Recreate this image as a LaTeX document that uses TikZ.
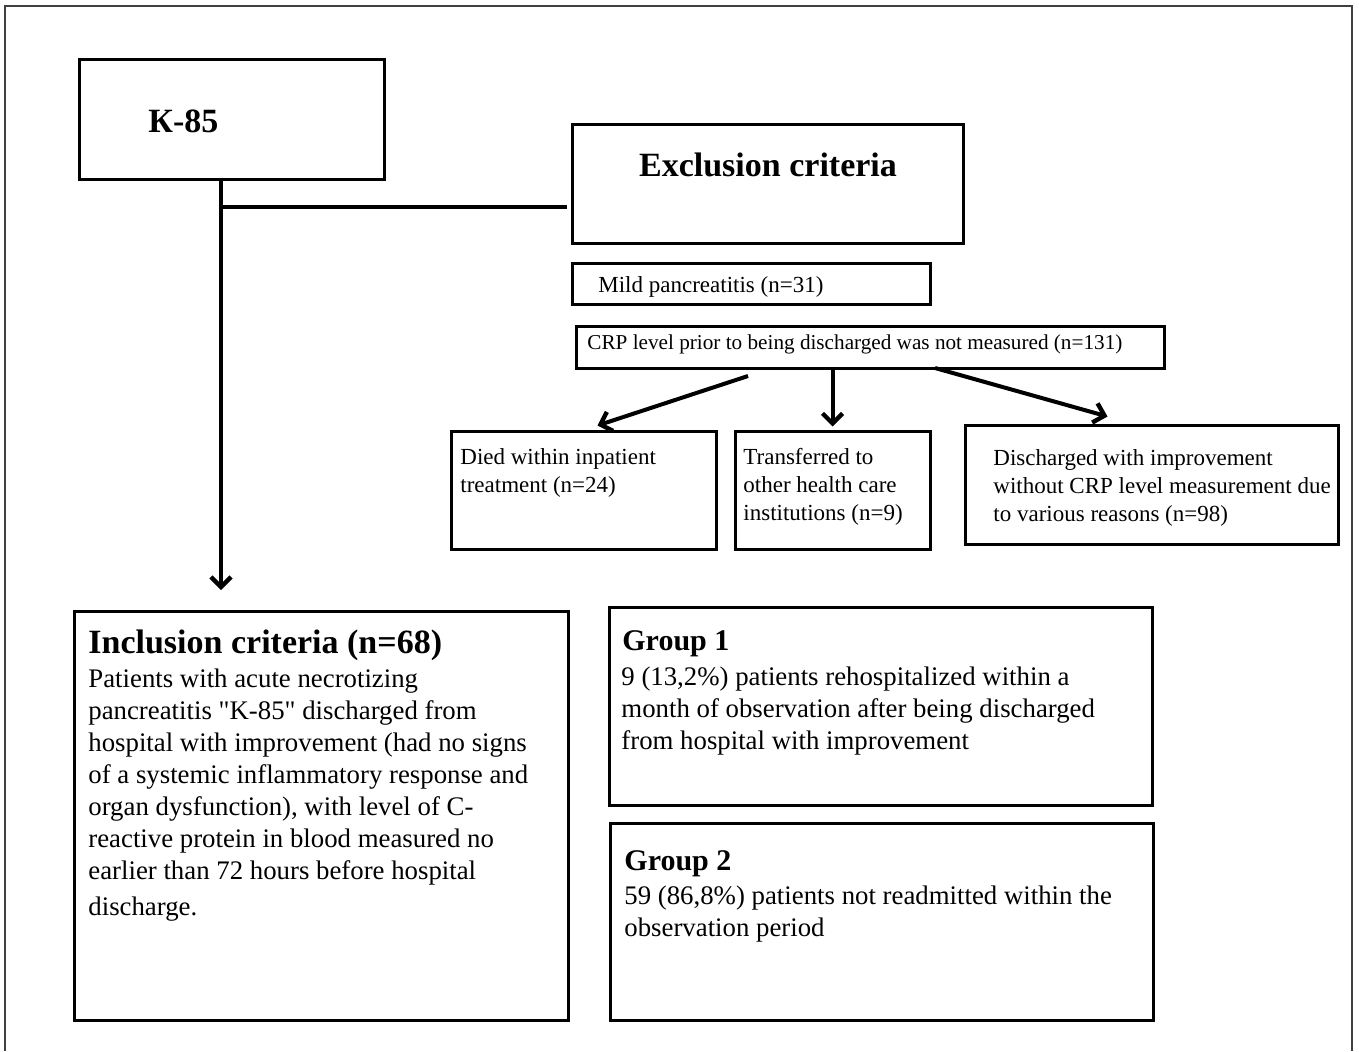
\documentclass[tikz,border=0pt]{standalone}
\usepackage{fontspec}
\setmainfont{Liberation Serif}
\usetikzlibrary{positioning,arrows.meta,fit}
\newcommand\flow[1]{\parbox[t]{300pt}{#1}}

\begin{document}
\begin{tikzpicture}[x=0.5pt,y=-0.5pt,
      box/.style={draw,line width=1.5pt,inner sep=0pt},
      txt/.style={anchor=base west,inner sep=0pt,font=\fontsize{13.4}{16}\selectfont},
      small/.style={txt,font=\fontsize{11.5}{14}\selectfont},
      heading/.style={txt,font=\fontsize{15}{18}\selectfont\bfseries},
      wire/.style={line width=2pt},
      pointer/.style={wire,-{Straight Barb[length=5pt,width=10pt,line width=2.2pt]}}]
    \useasboundingbox (0,0) rectangle (1359,1051);
    % outer frame, open at the bottom
    \draw[line width=0.8pt,black!75] (5,1051) -- (5,6) -- (1352,6) -- (1352,1051);

    % boxes
    \node[box,fit={(79,59) (384,179)}] (k85) {};
    \node[box,fit={(572,124) (963,243)}] (excl) {};
    \node[box,fit={(572,263) (930,304)}] (mild) {};
    \node[box,fit={(576,326) (1164,368)}] (crp) {};
    \node[box,fit={(451,431) (716,549)}] (died) {};
    \node[box,fit={(735,431) (930,549)}] (trans) {};
    \node[box,fit={(965,425) (1338,544)}] (disc) {};
    \node[box,fit={(74,611) (568,1020)}] (incl) {};
    \node[box,fit={(609,607) (1152,805)}] (grp1) {};
    \node[box,fit={(610,823) (1153,1020)}] (grp2) {};

    % texts
    \node[txt,font=\fontsize{17}{20}\selectfont\bfseries] (k85t) at (148,132) {К-85};
    \node[txt,anchor=base,font=\fontsize{17}{20}\selectfont\bfseries] (exclt) at (768,176) {Exclusion criteria};
    \node[small] (mildt) at (598,292) {Mild pancreatitis (n=31)};
    \node[small,font=\fontsize{10.6}{14}\selectfont] (crpt) at (587,349) {CRP level prior to being discharged was not measured (n=131)};
    \node[small] (diedt) at (460,464) {\flow{Died within inpatient\\treatment (n=24)}};
    \node[small] (transt) at (743,464) {\flow{Transferred to\\other health care\\institutions (n=9)}};
    \node[small] (disct) at (993,465) {\flow{Discharged with improvement\\without CRP level measurement due\\to various reasons (n=98)}};
    \node[heading,font=\fontsize{17}{20}\selectfont\bfseries] (inclh) at (88,653) {Inclusion criteria (n=68)};
    \node[txt] (inclt) at (88,687) {\flow{Patients with acute necrotizing\\
      pancreatitis \textquotedbl K-85\textquotedbl{} discharged from\\
      hospital with improvement (had no signs\\
      of a systemic inflammatory response and\\
      organ dysfunction), with level of C-\\
      reactive protein in blood measured no\\
      earlier than 72 hours before hospital\\[2pt]
      discharge.}};
    \node[heading] (grp1h) at (622,650) {Group 1};
    \node[txt] (grp1t) at (621,685) {\flow{9 (13,2\%) patients rehospitalized within a\\
      month of observation after being discharged\\
      from hospital with improvement}};
    \node[heading] (grp2h) at (624,870) {Group 2};
    \node[txt] (grp2t) at (624,904) {\flow{59 (86,8\%) patients not readmitted within the\\
      observation period}};

    % connectors
    \coordinate (kdown) at (221,590);
    \coordinate (branch) at (221,207);
    \coordinate (c1) at (748,376);
    \coordinate (c3) at (935,368);
    \draw[pointer] (k85.south -| kdown) -- (kdown);
    \draw[wire] (branch) -- ([xshift=-2pt]branch -| excl.west);
    \draw[pointer] (c1) -- ([xshift=7pt,yshift=2pt]died.north);
    \draw[pointer] (crp.south -| trans.north) -- ([yshift=1.5pt]trans.north);
    \draw[pointer] (c3) -- ([xshift=-22pt,yshift=3.5pt]disc.north);
  \end{tikzpicture}
\end{document}
